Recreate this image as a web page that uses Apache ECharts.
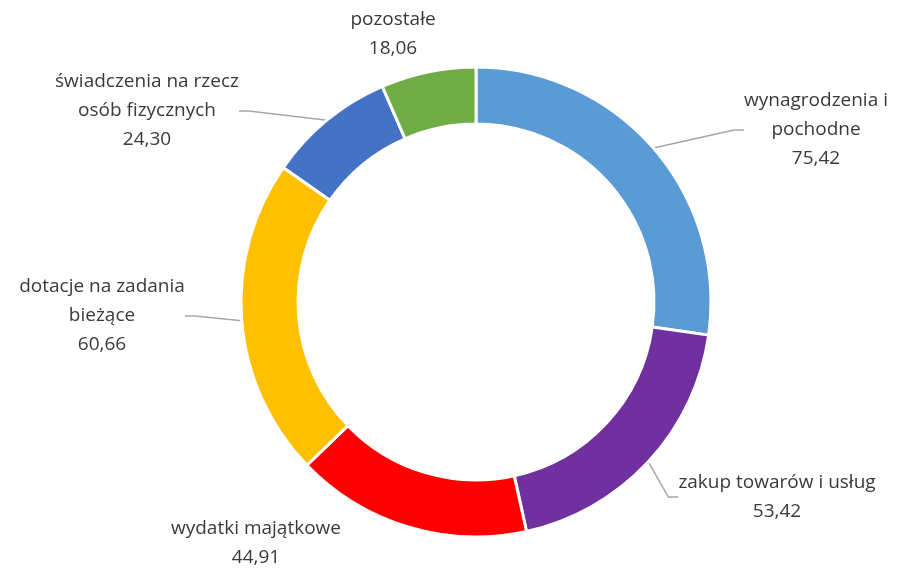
<!DOCTYPE html>
<html>
<head>
<meta charset="utf-8">
<script src="https://cdn.jsdelivr.net/npm/echarts@6/dist/echarts.min.js"></script>
<style>
  html, body { margin: 0; padding: 0; background: #fff; }
  #chart { width: 904px; height: 568px; }
</style>
</head>
<body>
<div id="chart"></div>
<script>
// kategorie wydatków i ich wartości
const categories = [
  "wynagrodzenia i\npochodne",
  "zakup towarów i usług",
  "wydatki majątkowe",
  "dotacje na zadania\nbieżące",
  "świadczenia na rzecz\nosób fizycznych",
  "pozostałe"
];
const values = [75.42, 53.42, 44.91, 60.66, 24.30, 18.06];
const colors = ["#5B9BD5", "#7030A0", "#FF0000", "#FFC000", "#4472C4", "#70AD47"];

// ręcznie ułożone pozycje etykiet (jak w oryginale)
const labelPos = [
  [816, 130],
  [777, 497],
  [256, 543],
  [102, 316],
  [147, 111],
  [393, 34]
];
// które etykiety mają linię odniesienia
const showLine = [true, true, false, true, true, false];

const myChart = echarts.init(document.getElementById("chart"));

const option = {
  animation: false,
  series: [
    {
      type: "pie",
      center: [476, 302],
      radius: [178, 235],
      startAngle: 90,
      clockwise: true,
      itemStyle: {
        borderColor: "#fff",
        borderWidth: 3
      },
      label: {
        show: true,
        color: "#3a3a3a",
        fontFamily: "Open Sans",
        fontSize: 19,
        lineHeight: 29,
        align: "center",
        formatter: function (p) {
          return p.name + "\n" + p.value.toFixed(2).replace(".", ",");
        }
      },
      labelLine: {
        show: true,
        length: 10,
        length2: 10,
        lineStyle: {
          color: "#A6A6A6",
          width: 1.5
        }
      },
      labelLayout: function (params) {
        const pos = labelPos[params.dataIndex];
        return {
          x: pos[0],
          y: pos[1],
          align: "center",
          verticalAlign: "middle"
        };
      },
      data: categories.map(function (c, i) {
        return {
          name: c,
          value: values[i],
          itemStyle: { color: colors[i] },
          labelLine: { show: showLine[i] }
        };
      })
    }
  ]
};
myChart.setOption(option);
</script>
</body>
</html>
